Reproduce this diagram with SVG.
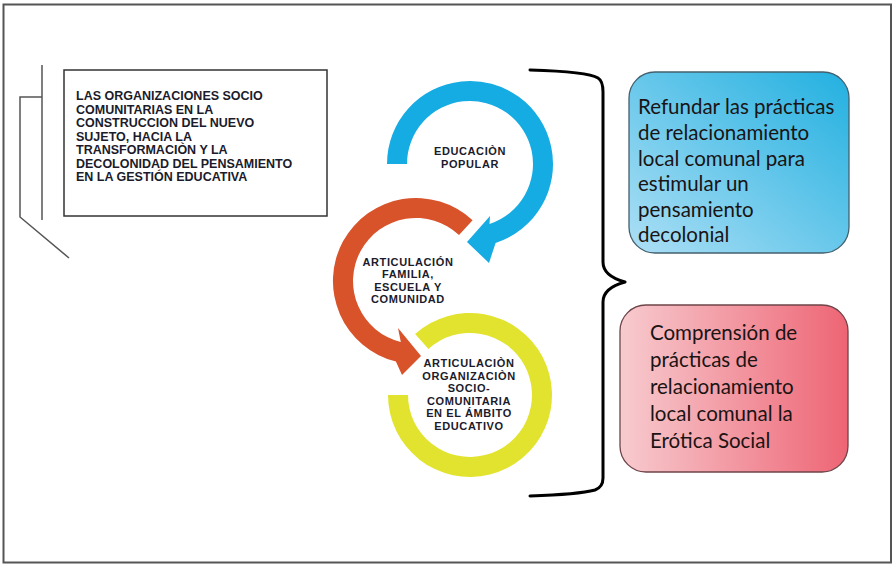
<svg xmlns="http://www.w3.org/2000/svg" width="894" height="565" viewBox="0 0 894 565">
<defs>
<linearGradient id="gBlue" x1="1" y1="0" x2="0" y2="1">
<stop offset="0" stop-color="#22b0e0"/>
<stop offset="1" stop-color="#addff5"/>
</linearGradient>
<linearGradient id="gRed" x1="0" y1="0" x2="1" y2="0">
<stop offset="0" stop-color="#f7cbcf"/>
<stop offset="1" stop-color="#ee6575"/>
</linearGradient>
<style>
.cap{font-family:"Liberation Sans",Arial,sans-serif;font-weight:bold;font-size:12.5px;fill:#1b1b2b}
.ring{font-family:"Liberation Sans",Arial,sans-serif;font-weight:bold;font-size:11px;fill:#1b1b2b;text-anchor:middle;letter-spacing:0.6px}
.box{font-family:Lato,"Liberation Sans",sans-serif;font-size:20.5px;fill:#1a1414}
.ln{fill:none;stroke:#555;stroke-width:1.5}
</style>
</defs>
<rect x="3.5" y="4.5" width="887.5" height="558" fill="#fff" stroke="#555" stroke-width="2"/>

<g id="connectors">
<line class="ln" x1="42" y1="65" x2="42" y2="220"/>
<polyline class="ln" points="42,97 20,97 20,217 69,258"/>
<path d="M530,70 C565,71 590,73 598,78 Q603,81 603,92 L603,262 Q603,276 625,282 Q603,288 603,302 L603,478 Q603,487 595,490 C580,494 560,495 530,496" fill="none" stroke="#000" stroke-width="3" stroke-linecap="round" stroke-linejoin="round"/>
</g>

<g id="main-box">
<rect x="64" y="70" width="263" height="146" fill="#fff" stroke="#333" stroke-width="1.5"/>
<text class="cap" x="76" y="100">LAS ORGANIZACIONES SOCIO</text>
<text class="cap" x="76" y="113.5">COMUNITARIAS EN LA</text>
<text class="cap" x="76" y="127">CONSTRUCCION DEL NUEVO</text>
<text class="cap" x="76" y="140.5">SUJETO, HACIA LA</text>
<text class="cap" x="76" y="154">TRANSFORMACIÒN Y LA</text>
<text class="cap" x="76" y="167.5">DECOLONIDAD DEL PENSAMIENTO</text>
<text class="cap" x="76" y="181">EN LA GESTIÓN EDUCATIVA</text>
</g>

<g id="ring-yellow">
<path d="M388,395 A82,82 0 1 0 415.1,334.1 L428.5,348.9 A62,62 0 1 1 408,395 Z" fill="#e2e32f"/>
<text class="ring" x="469" y="367">ARTICULACIÒN</text>
<text class="ring" x="469" y="379.5">ORGANIZACIÒN</text>
<text class="ring" x="469" y="392">SOCIO-</text>
<text class="ring" x="469" y="404.5">COMUNITARIA</text>
<text class="ring" x="469" y="417">EN EL ÁMBITO</text>
<text class="ring" x="469" y="429.5">EDUCATIVO</text>
</g>

<g id="ring-orange">
<path d="M472.6,220.3 A83,83 0 1 0 395.9,361.5 L402,375 L421,356 L398,328 L400.8,342.1 A63,63 0 1 1 459,234.9 Z" fill="#d8522a"/>
<text class="ring" x="408" y="265.5">ARTICULACIÓN</text>
<text class="ring" x="408" y="278">FAMILIA,</text>
<text class="ring" x="408" y="290.5">ESCUELA Y</text>
<text class="ring" x="408" y="303">COMUNIDAD</text>
</g>

<g id="ring-blue">
<path d="M387,164 A83,83 0 1 1 495.6,242.9 L489,263 L467,242 L490,216 L489.5,223.9 A63,63 0 1 0 407,164 Z" fill="#15abe3"/>
<text class="ring" x="470" y="155">EDUCACIÒN</text>
<text class="ring" x="470" y="167.5">POPULAR</text>
</g>

<g id="box-blue">
<rect x="629" y="72" width="220" height="181" rx="26" fill="url(#gBlue)" stroke="#44606e" stroke-width="1.3"/>
<text class="box" x="638" y="114">Refundar las prácticas</text>
<text class="box" x="638" y="140">de relacionamiento</text>
<text class="box" x="638" y="166">local comunal para</text>
<text class="box" x="638" y="191">estimular un</text>
<text class="box" x="638" y="217">pensamiento</text>
<text class="box" x="638" y="242">decolonial</text>
</g>

<g id="box-red">
<rect x="620" y="305" width="228" height="167" rx="26" fill="url(#gRed)" stroke="#6e4448" stroke-width="1.3"/>
<text class="box" x="650" y="340">Comprensión de</text>
<text class="box" x="650" y="367">prácticas de</text>
<text class="box" x="650" y="394">relacionamiento</text>
<text class="box" x="650" y="421">local comunal la</text>
<text class="box" x="650" y="448">Erótica Social</text>
</g>
</svg>
